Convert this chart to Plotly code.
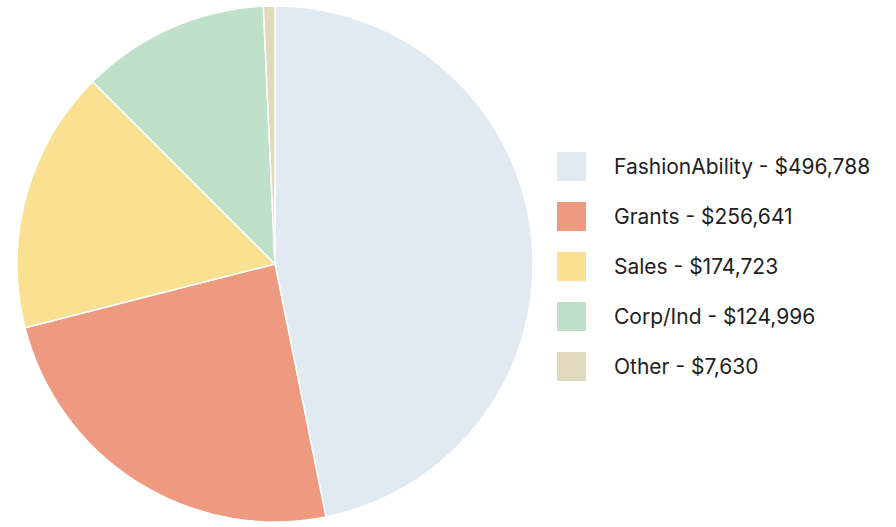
import plotly.graph_objects as go

categories = ["FashionAbility", "Grants", "Sales", "Corp/Ind", "Other"]
values = [496788, 256641, 174723, 124996, 7630]
colors = ["#E1E9F1", "#EE9A80", "#FAE192", "#BFE0C9", "#E0D9BC"]

W, H = 896, 527
fig = go.Figure()
fig.add_trace(go.Pie(
    labels=categories, values=values, sort=False, direction="clockwise",
    rotation=0, marker=dict(colors=colors, line=dict(color="white", width=1.5)),
    textinfo="none", hoverinfo="label+value", showlegend=False,
    domain=dict(x=[17 / W, 533 / W], y=[5 / H, 521 / H]),
))

# custom legend
x0, x1 = 557, 586
row0, step = 166.5, 50
for i, (c, v, col) in enumerate(zip(categories, values, colors)):
    yc = row0 + i * step
    fig.add_shape(type="rect", xref="paper", yref="paper",
                  x0=x0 / W, x1=x1 / W, y0=1 - (yc - 14.5) / H, y1=1 - (yc + 14.5) / H,
                  fillcolor=col, line=dict(width=0))
    fig.add_annotation(xref="paper", yref="paper", x=612 / W, y=1 - yc / H,
                       xanchor="left", yanchor="middle", showarrow=False,
                       text=f"{c} - ${v:,}",
                       font=dict(family="Inter", size=21, color="#1e1e1e"))

fig.update_layout(width=W, height=H, margin=dict(l=0, r=0, t=0, b=0),
                  paper_bgcolor="white", plot_bgcolor="white")
fig.write_html("out.html", config={"displayModeBar": False},
               post_script="document.body.style.margin='0';")
